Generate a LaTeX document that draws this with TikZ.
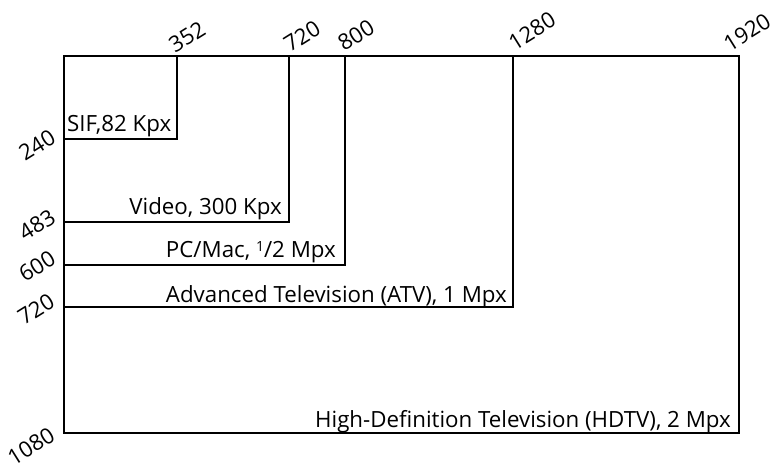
\documentclass[tikz,border=0pt]{standalone}
\usepackage{fontspec}
\setmainfont{Open Sans}
\begin{document}
\begin{tikzpicture}[x=1pt,y=-1pt,
  frame/.style={line width=2.9pt, line join=miter, line cap=rect},
  lbl/.style={font=\fontsize{22.3}{25}\selectfont, inner sep=0pt},
  num/.style={font=\fontsize{22}{25}\selectfont, inner sep=0pt, rotate=32}]
\useasboundingbox (0,0) rectangle (773,463);
% corners
\coordinate (TL) at (64,56);
\coordinate (BR) at (739,433);
\coordinate (sif) at (177,139);
\coordinate (vid) at (289,222);
\coordinate (pc) at (345,265);
\coordinate (atv) at (513,307);
% outer box (HDTV)
\draw[frame] (TL) rectangle (BR);
\draw[frame] (sif |- TL) -- (sif) -- (TL |- sif);
\draw[frame] (vid |- TL) -- (vid) -- (TL |- vid);
\draw[frame] (pc |- TL) -- (pc) -- (TL |- pc);
\draw[frame] (atv |- TL) -- (atv) -- (TL |- atv);
% area labels
\node[lbl, anchor=base west] (tsif) at (67,131) {SIF,82 Kpx};
\node[lbl, anchor=base east] (tvid) at (282,214) {Video, 300 Kpx};
\node[lbl, anchor=base east] (tpc) at (336,257) {PC/Mac, \raisebox{0.45ex}{\fontsize{14}{15}\selectfont 1}/2 Mpx};
\node[lbl, anchor=base east] (tatv) at (507,302) {Advanced Television (ATV), 1 Mpx};
\node[lbl, anchor=base east] (thd) at (731,427) {High-Definition Television (HDTV), 2 Mpx};
% width labels
\node[num] (w352) at (187,37) {352};
\node[num] (w720) at (302,36) {720};
\node[num] (w800) at (356,35) {800};
\node[num] (w1280) at (532,31) {1280};
\node[num] (w1920) at (747,32) {1920};
% height labels
\node[num] (h240) at (37,145) {240};
\node[num] (h483) at (37,225) {483};
\node[num] (h600) at (37,266) {600};
\node[num] (h720) at (36,309) {720};
\node[num] (h1080) at (31,446) {1080};
\end{tikzpicture}
\end{document}
